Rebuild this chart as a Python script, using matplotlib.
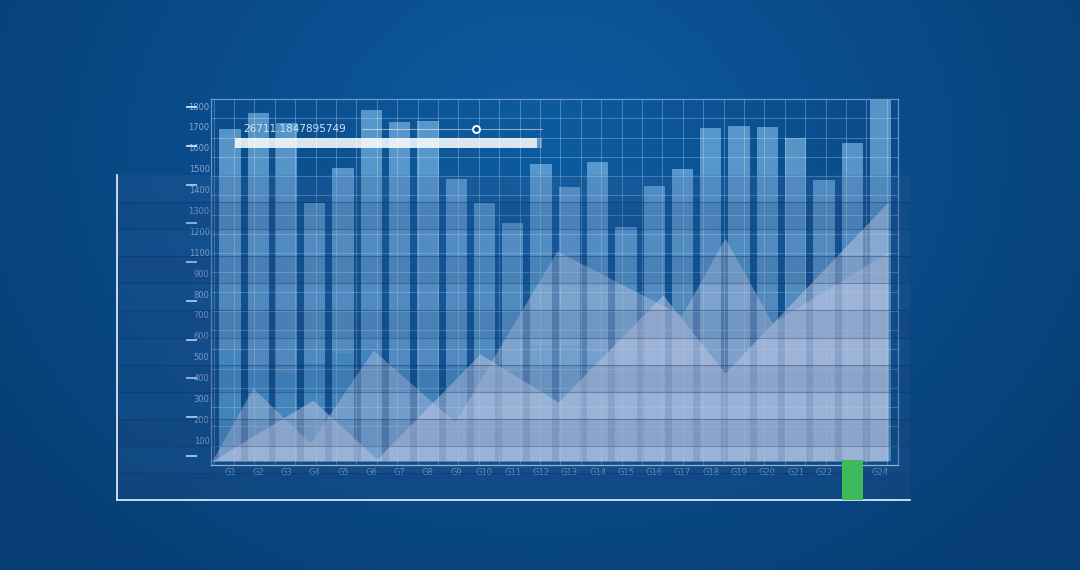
import numpy as np
import matplotlib
matplotlib.use("Agg")
import matplotlib.pyplot as plt
from matplotlib.colors import LinearSegmentedColormap
from matplotlib.patches import Rectangle

# data (value units follow the tick positions)
groups = ["G%d" % i for i in range(1, 25)]
bar_values = [1590, 1667, 1619, 1236, 1404, 1681, 1624, 1629, 1351, 1236, 1140, 1423,
              1313, 1432, 1121, 1317, 1399, 1595, 1605, 1600, 1547, 1346, 1523, 1729]
base_values = [532, 436, 422, 469, 517, 532, 436, 436, 460, 436, 426, 556,
               556, 522, 532, 436, 426, 426, 398, 412, 436, 445, 455, 445]

area_a_x = [-0.64, 0.81, 2.83, 5.06, 7.96, 11.56, 15.98, 17.50, 19.17, 23.27]
area_a_y = [0, 350, 86, 532, 187, 1006, 699, 1068, 661, 1001]
area_b_x = [-0.64, 2.93, 5.20, 8.84, 11.60, 15.31, 17.50, 23.27]
area_b_y = [0, 292, 10, 513, 283, 795, 422, 1241]

y_tick_pos = [100, 200, 300, 400, 500, 600, 700, 800, 900,
              1000, 1100, 1200, 1300, 1400, 1500, 1600, 1700]
y_tick_labels = ["100", "200", "300", "400", "500", "600", "700", "800", "900",
                 "1100", "1200", "1300", "1400", "1500", "1600", "1700", "1800"]

highlight_group = "G23"
highlight_value = 190
readout_text = "26711.1847895749"

W, H = 1080, 570
fig = plt.figure(figsize=(W / 100, H / 100), dpi=100)


def px_box(x0, y0, x1, y1):
    return [x0 / W, 1 - y1 / H, (x1 - x0) / W, (y1 - y0) / H]


# radial blue background
bg = fig.add_axes([0, 0, 1, 1], zorder=0)
yy, xx = np.mgrid[0:H, 0:W]
r = np.hypot((xx - 540) / 680, (yy - 150) / 560)
cmap = LinearSegmentedColormap.from_list("bg", ["#0d5ca0", "#0a4c8b", "#073e74"])
bg.imshow(np.clip(r, 0, 1), cmap=cmap, extent=[0, W, H, 0], aspect="auto")
bg.set_xlim(0, W)
bg.set_ylim(H, 0)
bg.axis("off")

# main chart
ax = fig.add_axes(px_box(211, 99, 898, 465), zorder=1)
ax.patch.set_alpha(0)
x = np.arange(len(groups))
ax.bar(x, bar_values, width=0.75, color="#86c0ec", alpha=0.62, zorder=2)
ax.bar(x, base_values, width=0.75, color="#1f7fbf", alpha=0.3, zorder=2)

ax.vlines(np.arange(2.6, 687, 20.4) / 687, 0, 1, transform=ax.transAxes,
          color="white", alpha=0.26, lw=0.7, zorder=2.5)
ax.hlines(np.linspace(0, 1, 20)[1:-1], 0, 1, transform=ax.transAxes,
          color="white", alpha=0.26, lw=0.7, zorder=2.5)

ax.fill_between(area_a_x, area_a_y, 0, color="#e0e0f4", alpha=0.4, lw=0, zorder=3)
ax.fill_between(area_b_x, area_b_y, 0, color="#e0e0f4", alpha=0.5, lw=0, zorder=3)

ax.set_xlim(-0.67, 23.62)
ax.set_ylim(-19, 1734)
for side, sp in ax.spines.items():
    sp.set_color("#a9c6ea")
    sp.set_alpha(0.6)
    sp.set_linewidth(0.9)
ax.spines["bottom"].set_color("#d2e2f5")
ax.spines["bottom"].set_alpha(0.8)

ax.set_xticks(x, groups)
ax.set_yticks(y_tick_pos, y_tick_labels)
ax.tick_params(axis="x", length=0, pad=2, labelsize=6, labelcolor="#7196c8")
ax.tick_params(axis="y", length=0, pad=1, labelsize=6, labelcolor="#86a8d6")
ax.hlines(np.linspace(24, 1696, 10), -0.037, -0.021, transform=ax.get_yaxis_transform(),
          clip_on=False, color="#dce8f8", lw=1.2)

# striped overlay panel with the green marker bar
ov = fig.add_axes(px_box(117, 175, 910, 500), zorder=2)
ov.patch.set_facecolor("#3a64a0")
ov.patch.set_alpha(0.2)
ov.set_xlim(-4.0, 24.04)
ov.set_ylim(0, 1557)
edges = np.linspace(0, 1, 13)
for i in range(12):
    if i % 2 == 0:
        ov.add_patch(Rectangle((0, edges[i]), 1, edges[i + 1] - edges[i],
                               transform=ov.transAxes, color="#0a2f66", alpha=0.1, lw=0))
ov.hlines(edges[1:-1], 0, 1, transform=ov.transAxes, color="#0b2c5c", alpha=0.35, lw=0.8)
ov.bar(groups.index(highlight_group), highlight_value, width=0.75, color="#3dba5c", zorder=5)
ov.set_xticks([])
ov.set_yticks([])
for side in ["top", "right"]:
    ov.spines[side].set_visible(False)
for side in ["left", "bottom"]:
    ov.spines[side].set_color("#d8e6f7")
    ov.spines[side].set_linewidth(1.3)

# readout text and slider at the top
deco = fig.add_axes([0, 0, 1, 1], zorder=3)
deco.patch.set_alpha(0)
deco.set_xlim(0, W)
deco.set_ylim(H, 0)
deco.axis("off")
deco.text(243, 129, readout_text, fontsize=7.5, color="#d3e0f2", va="center", ha="left")
deco.plot([362, 542], [129, 129], color="white", alpha=0.5, lw=0.8)
deco.plot([476], [129], "o", ms=5, mfc="#0b4f90", mec="white", mew=1.4)
deco.add_patch(Rectangle((235, 138), 302, 10, color="white", alpha=0.85, lw=0))
deco.add_patch(Rectangle((537, 138), 5, 10, color="white", alpha=0.35, lw=0))

fig.savefig("out.png", dpi=100)
